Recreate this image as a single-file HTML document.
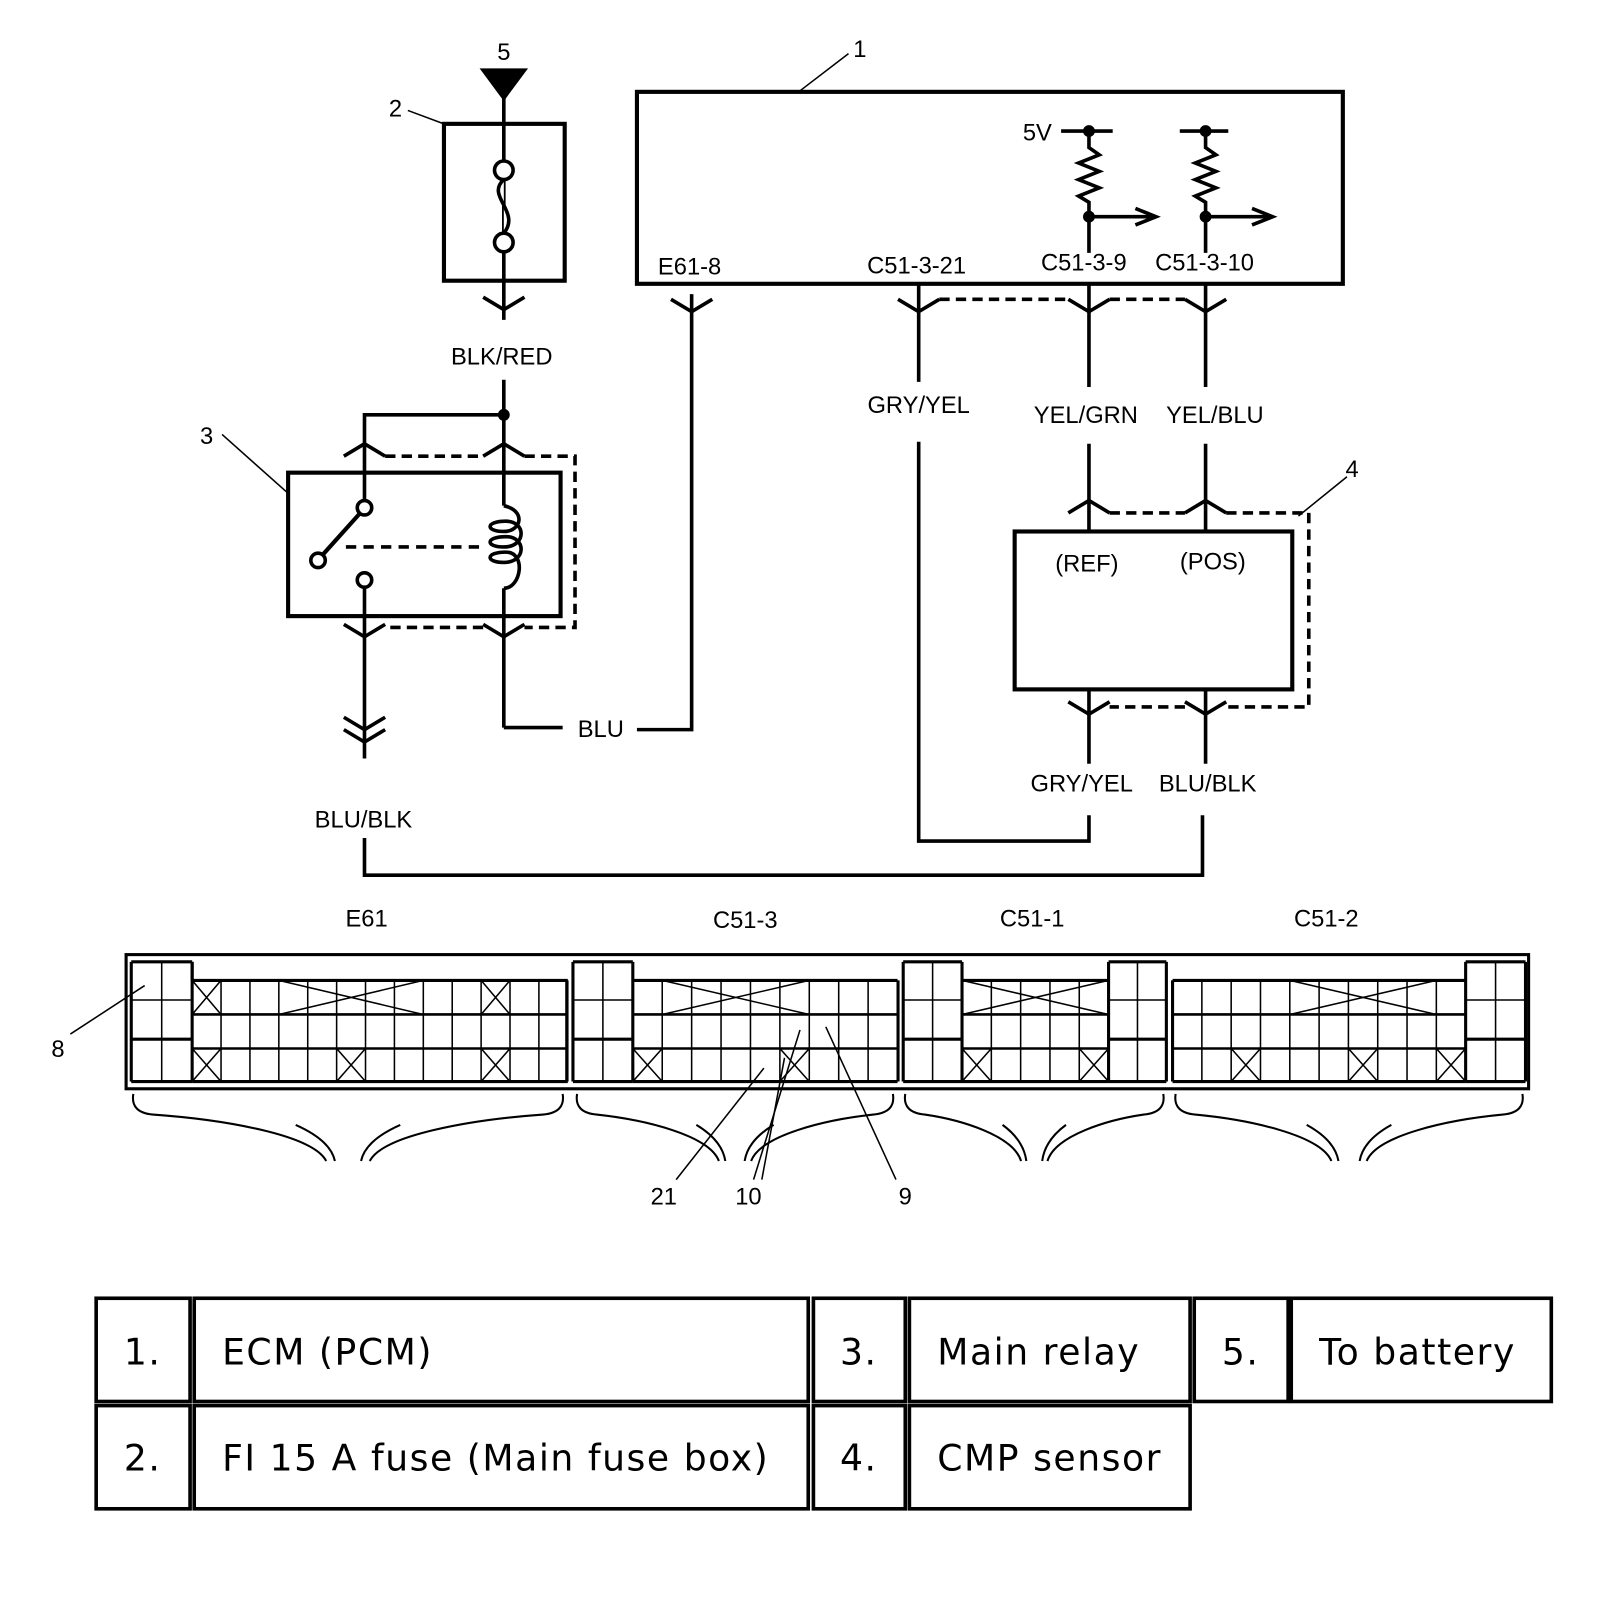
<!DOCTYPE html>
<html><head><meta charset="utf-8"><style>
html,body{margin:0;padding:0;background:#fff;}
svg{display:block;}
text{font-family:"Liberation Sans",Arial,sans-serif;fill:#000;}
.t{font-size:23px;}
.tb{font-family:"DejaVu Sans",Verdana,sans-serif;font-size:35px;letter-spacing:1.5px;}
</style></head><body>
<svg id="s" width="1600" height="1612" viewBox="0 0 1550 1562" xmlns="http://www.w3.org/2000/svg">
<g fill="none" stroke="#000" stroke-width="3.5">
<polygon points="468,68 508,68 488,95" fill="#000"/>
<line x1="488" y1="95" x2="488" y2="310"/>
<rect x="430" y="120" width="117" height="152" stroke-width="4"/>
<circle cx="488" cy="165" r="9" fill="#fff"/>
<circle cx="488" cy="235" r="9" fill="#fff"/>
<path d="M488,174 C470,190 505,205 488,226" fill="#fff"/>
<line x1="395" y1="107" x2="430" y2="120" stroke-width="1.5"/>
<polyline points="468,288 488,300 508,288"/>
<line x1="488" y1="368" x2="488" y2="490"/>
<circle cx="488" cy="402" r="4" fill="#000"/>
<polyline points="353,490 353,402 488,402"/>
<polyline points="333,442 353,430 373,442"/>
<polyline points="468,442 488,430 508,442"/>
<path d="M373,442 H468 M508,442 H557 V608 H508 M468,608 H373" stroke-dasharray="10,6"/>
<rect x="279" y="458" width="264" height="139" stroke-width="4"/>
<circle cx="353" cy="492" r="7" fill="#fff"/>
<circle cx="353" cy="562" r="7" fill="#fff"/>
<circle cx="308" cy="543" r="7" fill="#fff"/>
<line x1="313" y1="537" x2="348" y2="498" stroke-width="4"/>
<line x1="335" y1="530" x2="470" y2="530" stroke-dasharray="10,7"/>
<path d="M488,490 C510,495 505,515 488,515 C470,515 470,505 490,505 C510,505 510,530 488,530 C470,530 470,520 490,520 C510,520 510,545 488,545 C470,545 470,535 490,535 C510,535 505,570 488,570"/>
<line x1="353" y1="569" x2="353" y2="735"/>
<line x1="488" y1="570" x2="488" y2="705"/>
<polyline points="333,605 353,617 373,605"/>
<polyline points="468,605 488,617 508,605"/>
<polyline points="333,695 353,707 373,695"/>
<polyline points="333,707 353,719 373,707"/>
<polyline points="488,705 545,705"/>
<polyline points="617,707 670,707 670,285"/>
<polyline points="650,290 670,302 690,290"/>
<line x1="215" y1="421" x2="279" y2="478" stroke-width="1.5"/>
<polyline points="353,812 353,848 1165,848 1165,790"/>
<rect x="617" y="89" width="684" height="186" stroke-width="4"/>
<line x1="775" y1="88" x2="822" y2="52" stroke-width="1.5"/>
<line x1="1028" y1="127" x2="1078" y2="127"/>
<line x1="1143" y1="127" x2="1190" y2="127"/>
<circle cx="1055" cy="127" r="4" fill="#000"/><circle cx="1168" cy="127" r="4" fill="#000"/>
<polyline points="1055,127 1055,143 1065,150 1045,158 1065,166 1045,174 1065,182 1045,190 1055,196 1055,245"/>
<polyline points="1168,127 1168,143 1178,150 1158,158 1178,166 1158,174 1178,182 1158,190 1168,196 1168,245"/>
<circle cx="1055" cy="210" r="4" fill="#000"/><circle cx="1168" cy="210" r="4" fill="#000"/>
<line x1="1055" y1="210" x2="1120" y2="210"/><polyline points="1100,202 1120,210 1100,218"/>
<line x1="1168" y1="210" x2="1233" y2="210"/><polyline points="1213,202 1233,210 1213,218"/>
<line x1="890" y1="275" x2="890" y2="370"/>
<line x1="1055" y1="275" x2="1055" y2="375"/>
<line x1="1168" y1="275" x2="1168" y2="375"/>
<polyline points="870,290 890,302 910,290"/>
<polyline points="1035,290 1055,302 1075,290"/>
<polyline points="1148,290 1168,302 1188,290"/>
<path d="M910,290 H1035 M1075,290 H1148" stroke-dasharray="10,6"/>
<polyline points="890,428 890,815 1055,815 1055,790"/>
<line x1="1055" y1="430" x2="1055" y2="515"/>
<line x1="1168" y1="430" x2="1168" y2="515"/>
<polyline points="1035,497 1055,485 1075,497"/>
<polyline points="1148,497 1168,485 1188,497"/>
<path d="M1075,497 H1148 M1188,497 H1268 V685 H1188 M1148,685 H1075" stroke-dasharray="10,6"/>
<rect x="983" y="515" width="269" height="153" stroke-width="4"/>
<line x1="1055" y1="668" x2="1055" y2="740"/>
<line x1="1168" y1="668" x2="1168" y2="740"/>
<polyline points="1035,680 1055,692 1075,680"/>
<polyline points="1148,680 1168,692 1188,680"/>
<line x1="1258" y1="500" x2="1305" y2="462" stroke-width="1.5"/>
<rect x="122" y="925" width="1359" height="130" stroke-width="3"/>
<g id="grid" stroke-width="1.5"></g>
<g id="brace" stroke-width="2"></g>
<line x1="68" y1="1002" x2="140" y2="955" stroke-width="1.5"/>
<line x1="655" y1="1143" x2="740" y2="1035" stroke-width="1.5"/>
<line x1="730" y1="1143" x2="775" y2="998" stroke-width="1.5"/>
<line x1="738" y1="1143" x2="760" y2="1025" stroke-width="1.5"/>
<line x1="868" y1="1143" x2="800" y2="995" stroke-width="1.5"/>
<g stroke-width="3.5">
<rect x="93" y="1258" width="91" height="100"/><rect x="188" y="1258" width="595" height="100"/>
<rect x="788" y="1258" width="89" height="100"/><rect x="881" y="1258" width="272" height="100"/>
<rect x="1157" y="1258" width="91" height="100"/><rect x="1251" y="1258" width="252" height="100"/>
<rect x="93" y="1362" width="91" height="100"/><rect x="188" y="1362" width="595" height="100"/>
<rect x="788" y="1362" width="89" height="100"/><rect x="881" y="1362" width="272" height="100"/>
</g>
</g>
<text x="488" y="58" class="t" text-anchor="middle">5</text>
<text x="383" y="113" class="t" text-anchor="middle">2</text>
<text x="200" y="430" class="t" text-anchor="middle">3</text>
<text x="833" y="55" class="t" text-anchor="middle">1</text>
<text x="1310" y="462" class="t" text-anchor="middle">4</text>
<text x="486" y="353" class="t" text-anchor="middle">BLK/RED</text>
<text x="582" y="714" class="t" text-anchor="middle">BLU</text>
<text x="352" y="802" class="t" text-anchor="middle">BLU/BLK</text>
<text x="668" y="266" class="t" text-anchor="middle">E61-8</text>
<text x="888" y="265" class="t" text-anchor="middle">C51-3-21</text>
<text x="1050" y="262" class="t" text-anchor="middle">C51-3-9</text>
<text x="1167" y="262" class="t" text-anchor="middle">C51-3-10</text>
<text x="1005" y="136" class="t" text-anchor="middle">5V</text>
<text x="890" y="400" class="t" text-anchor="middle">GRY/YEL</text>
<text x="1052" y="410" class="t" text-anchor="middle">YEL/GRN</text>
<text x="1177" y="410" class="t" text-anchor="middle">YEL/BLU</text>
<text x="1053" y="554" class="t" text-anchor="middle">(REF)</text>
<text x="1175" y="552" class="t" text-anchor="middle">(POS)</text>
<text x="1048" y="767" class="t" text-anchor="middle">GRY/YEL</text>
<text x="1170" y="767" class="t" text-anchor="middle">BLU/BLK</text>
<text x="355" y="898" class="t" text-anchor="middle">E61</text>
<text x="722" y="899" class="t" text-anchor="middle">C51-3</text>
<text x="1000" y="898" class="t" text-anchor="middle">C51-1</text>
<text x="1285" y="898" class="t" text-anchor="middle">C51-2</text>
<text x="56" y="1024" class="t" text-anchor="middle">8</text>
<text x="643" y="1167" class="t" text-anchor="middle">21</text>
<text x="725" y="1167" class="t" text-anchor="middle">10</text>
<text x="877" y="1167" class="t" text-anchor="middle">9</text>
<text x="138" y="1322" class="tb" text-anchor="middle">1.</text>
<text x="215" y="1322" class="tb">ECM (PCM)</text>
<text x="832" y="1322" class="tb" text-anchor="middle">3.</text>
<text x="908" y="1322" class="tb">Main relay</text>
<text x="1202" y="1322" class="tb" text-anchor="middle">5.</text>
<text x="1278" y="1322" class="tb">To battery</text>
<text x="138" y="1425" class="tb" text-anchor="middle">2.</text>
<text x="215" y="1425" class="tb">FI 15 A fuse (Main fuse box)</text>
<text x="832" y="1425" class="tb" text-anchor="middle">4.</text>
<text x="908" y="1425" class="tb">CMP sensor</text>
</svg>
<script>
var g=document.getElementById('grid'),b=document.getElementById('brace'),h='';
function L(a,c,d,e,w){h+='<line x1="'+a+'" y1="'+c+'" x2="'+d+'" y2="'+e+'"'+(w?' stroke-width="'+w+'"':'')+'/>';}
function X(x,y,w,hh){L(x,y,x+w,y+hh);L(x+w,y,x,y+hh);}
var T=950,B=1048,TT=932,rows=[950,983,1016,1048],trows=[932,969,1007,1048];
function tall(x0,n,cw){for(var i=0;i<=n;i++)L(x0+i*cw,TT,x0+i*cw,B,i==0||i==n?3:1.5);L(x0,TT,x0+n*cw,TT,3);L(x0,B,x0+n*cw,B,3);for(var r=1;r<3;r++)L(x0,trows[r],x0+n*cw,trows[r],r==2?3:1.5);}
function mid(x0,n,cw,xs,big){for(var i=0;i<=n;i++)L(x0+i*cw,T,x0+i*cw,B,1.5);L(x0,T,x0+n*cw,T,3);L(x0,B,x0+n*cw,B,3);L(x0,rows[1],x0+n*cw,rows[1],2.5);L(x0,rows[2],x0+n*cw,rows[2],2.5);
 xs.forEach(function(p){X(x0+p[0]*cw,rows[p[1]],cw,rows[p[1]+1]-rows[p[1]]);});
 if(big)X(x0+big[0]*cw,T,(big[1]-big[0])*cw,rows[1]-T);}
tall(127,2,29.5);mid(186,13,28,[[0,0],[10,0],[0,2],[5,2],[10,2]],[3,8]);L(186,TT,186,T,3);L(549,T,549,B,3);
tall(555,2,29);mid(613,9,28.5,[[0,2],[5,2]],[1,6]);L(870,T,870,B,3);
tall(875,2,28.5);mid(932,5,28.4,[[0,2],[4,2]],[0,5]);tall(1074,2,28);
mid(1136,10,28.4,[[2,2],[6,2],[9,2]],[4,9]);tall(1420,2,29);L(1136,T,1136,B,3);
g.innerHTML=h;
var bh='';
function br(x0,x1){var c=(x0+x1)/2,w=x1-x0;
bh+='<path d="M'+(x0+3)+',1060 Q'+x0+',1078 '+(x0+22)+',1080 C'+(x0+w*0.22)+',1085 '+(c-w*0.08)+',1100 '+(c-w*0.05)+',1125"/>';
bh+='<path d="M'+(x1-3)+',1060 Q'+x1+',1078 '+(x1-22)+',1080 C'+(x1-w*0.22)+',1085 '+(c+w*0.08)+',1100 '+(c+w*0.05)+',1125"/>';
bh+='<path d="M'+(c-w*0.12)+',1090 Q'+(c-w*0.04)+',1105 '+(c-w*0.03)+',1125"/>';
bh+='<path d="M'+(c+w*0.12)+',1090 Q'+(c+w*0.04)+',1105 '+(c+w*0.03)+',1125"/>';}
br(126,548);br(556,868);br(874,1130);br(1136,1478);
b.innerHTML=bh;
</script>
</body></html>
